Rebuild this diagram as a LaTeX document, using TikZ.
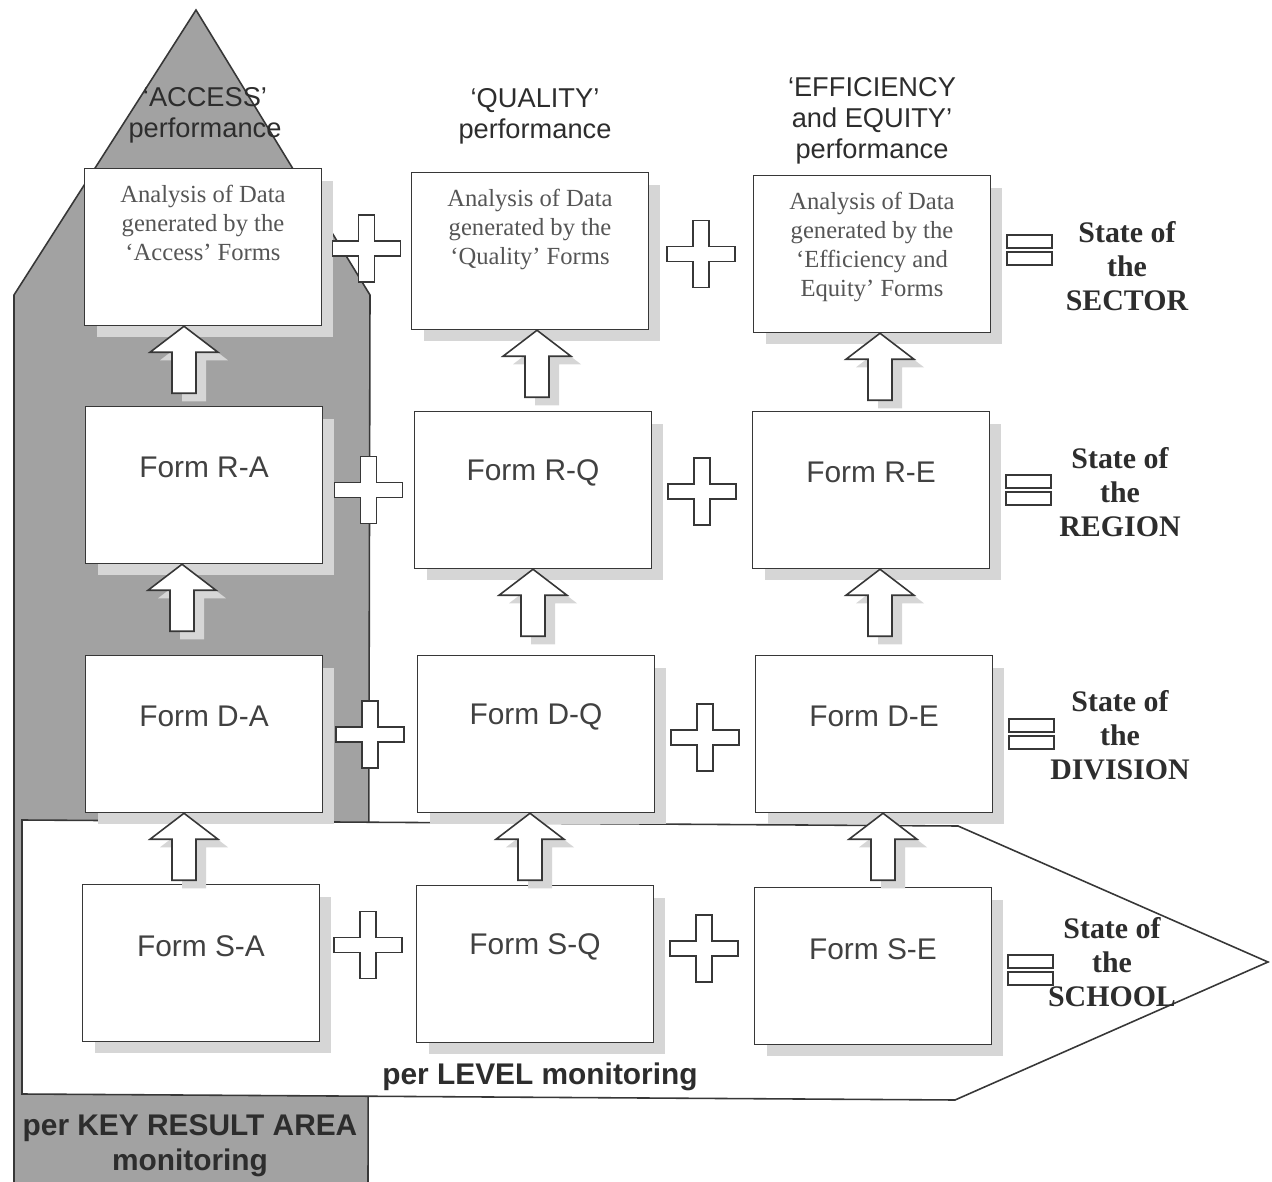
\documentclass[tikz,border=0pt]{standalone}
\usepackage{fontspec}
\setmainfont{Liberation Serif}
\setsansfont{Liberation Sans}
\usetikzlibrary{calc,shadows}

\definecolor{kragray}{RGB}{162,162,162}
\definecolor{shadowgray}{RGB}{214,214,214}
\definecolor{linegray}{RGB}{55,55,55}
\definecolor{textgray}{RGB}{65,65,65}
\definecolor{datagray}{RGB}{85,85,85}
\definecolor{titlegray}{RGB}{45,45,45}

% up arrow between two boxes: #1 lower box, #2 upper box, #3 x offset
\newcommand{\blockup}[3]{%
  \path ($(#1.north)+(#3,0)$) coordinate (tmpx);
  \fill[shadowgray] ($(tmpx |- #2.south)+(10,8)$) -- ++(34,26) -- ++(-22,0) -- ++(0,41) -- ++(-24,0) -- ++(0,-41) -- ++(-22,0) -- cycle;
  \draw[blockarr] (tmpx |- #2.south) -- ++(34,26) -- ++(-22,0) -- ++(0,41) -- ++(-24,0) -- ++(0,-41) -- ++(-22,0) -- cycle;
}
% plus between two boxes: #1 left box, #2 right box, #3 y offset
\newcommand{\plusbetween}[3]{%
  \draw[plussign] ($(#1.east)!0.5!(#2.west)+(-8,-34+#3)$) -- ++(16,0) -- ++(0,26) -- ++(26,0) -- ++(0,15) -- ++(-26,0) -- ++(0,26) -- ++(-16,0) -- ++(0,-26) -- ++(-26,0) -- ++(0,-15) -- ++(26,0) -- cycle;
}
% equal sign right of a box: #1 box, #2 y offset
\newcommand{\eqafter}[2]{%
  \draw[eqsign] ($(#1.east)+(16,-15+#2)$) rectangle ++(45,13);
  \draw[eqsign] ($(#1.east)+(16,2+#2)$) rectangle ++(45,13);
}

\begin{document}
\begin{tikzpicture}[
    x=0.02cm, y=-0.02cm,
    formbox/.style={
        rectangle,
        draw=linegray,
        fill=white,
        line width=0.9pt,
        minimum width=4.74cm,
        minimum height=3.14cm,
        inner sep=0pt,
        drop shadow={shadow xshift=0.24cm, shadow yshift=-0.24cm, fill=shadowgray, opacity=1}
    },
    formtext/.style={
        font=\sffamily\fontsize{17}{20}\selectfont,
        text=textgray,
        inner sep=0pt
    },
    datatext/.style={
        font=\fontsize{14}{16.5}\selectfont,
        text=datagray,
        align=center,
        inner sep=0pt
    },
    titletext/.style={
        font=\sffamily\fontsize{15.5}{17.5}\selectfont,
        text=titlegray,
        align=center,
        inner sep=0pt
    },
    statetext/.style={
        font=\bfseries\fontsize{17}{19.5}\selectfont,
        text=titlegray,
        align=center,
        inner sep=0pt
    },
    bandtext/.style={
        font=\sffamily\bfseries\fontsize{17}{20}\selectfont,
        text=titlegray,
        align=center,
        inner sep=0pt
    },
    blockarr/.style={draw=linegray, fill=white, line width=0.9pt},
    plussign/.style={draw=linegray, fill=white, line width=0.9pt},
    eqsign/.style={draw=linegray, fill=white, line width=0.9pt}
]
\useasboundingbox (0,0) rectangle (1272,1182);

% Key result area band (grey)
\fill[kragray] (14,1182) -- (14,295) -- (196,10) -- (370,295) -- (368,1182) -- cycle;
\draw[linegray, line width=0.9pt] (14,1182) -- (14,295) -- (196,10) -- (370,295) -- (368,1182);

% Level band (white)
\draw[linegray, fill=white, line width=0.9pt] (22,820) -- (958,826) -- (1268,962) -- (955,1100) -- (22,1094) -- cycle;

% Titles
\node[titletext] (ttlAccess) at (205,115) {‘ACCESS’\\performance};
\node[titletext] (ttlQuality) at (535,116) {‘QUALITY’\\performance};
\node[titletext] (ttlEfficiency) at (872,121) {‘EFFICIENCY\\and EQUITY’\\performance};

% Analysis boxes
\node[formbox] (anA) at (203,247) {};
\node[formbox] (anQ) at (530,251) {};
\node[formbox] (anE) at (872,254) {};

% Region, division, school forms
\node[formbox] (frmRA) at (204,485) {};
\node[formbox] (frmRQ) at (533,490) {};
\node[formbox] (frmRE) at (871,490) {};
\node[formbox] (frmDA) at (204,734) {};
\node[formbox] (frmDQ) at (536,734) {};
\node[formbox] (frmDE) at (874,734) {};
\node[formbox] (frmSA) at (201,963) {};
\node[formbox] (frmSQ) at (535,964) {};
\node[formbox] (frmSE) at (873,966) {};

% Box texts
\node[datatext, anchor=north] (txAnA) at ($(anA.north)+(0,17)$) {Analysis of Data\\generated by the\\‘Access’ Forms};
\node[datatext, anchor=north] (txAnQ) at ($(anQ.north)+(0,17)$) {Analysis of Data\\generated by the\\‘Quality’ Forms};
\node[datatext, anchor=north] (txAnE) at ($(anE.north)+(0,17)$) {Analysis of Data\\generated by the\\‘Efficiency and\\Equity’ Forms};
\node[formtext] (txRA) at ($(frmRA.north)+(0,62)$) {Form R-A};
\node[formtext] (txRQ) at ($(frmRQ.north)+(0,62)$) {Form R-Q};
\node[formtext] (txRE) at ($(frmRE.north)+(0,62)$) {Form R-E};
\node[formtext] (txDA) at ($(frmDA.north)+(0,62)$) {Form D-A};
\node[formtext] (txDQ) at ($(frmDQ.north)+(0,62)$) {Form D-Q};
\node[formtext] (txDE) at ($(frmDE.north)+(0,62)$) {Form D-E};
\node[formtext] (txSA) at ($(frmSA.north)+(0,62)$) {Form S-A};
\node[formtext] (txSQ) at ($(frmSQ.north)+(0,62)$) {Form S-Q};
\node[formtext] (txSE) at ($(frmSE.north)+(0,62)$) {Form S-E};

% Up arrows
\blockup{frmRA}{anA}{-20}
\blockup{frmDA}{frmRA}{-22}
\blockup{frmSA}{frmDA}{-17}
\blockup{frmRQ}{anQ}{4}
\blockup{frmDQ}{frmRQ}{-3}
\blockup{frmSQ}{frmDQ}{-5}
\blockup{frmRE}{anE}{9}
\blockup{frmDE}{frmRE}{6}
\blockup{frmSE}{frmDE}{10}

% Plus signs
\plusbetween{anA}{anQ}{0}
\plusbetween{anQ}{anE}{2}
\plusbetween{frmRA}{frmRQ}{3}
\plusbetween{frmRQ}{frmRE}{2}
\plusbetween{frmDA}{frmDQ}{1}
\plusbetween{frmDQ}{frmDE}{4}
\plusbetween{frmSA}{frmSQ}{-18}
\plusbetween{frmSQ}{frmSE}{-16}

% Equal signs
\eqafter{anE}{-4}
\eqafter{frmRE}{0}
\eqafter{frmDE}{0}
\eqafter{frmSE}{4}

% States
\node[statetext] (stSector) at (1127,266) {State of\\the\\SECTOR};
\node[statetext] (stRegion) at (1120,492) {State of\\the\\REGION};
\node[statetext] (stDivision) at (1120,735) {State of\\the\\DIVISION};
\node[statetext] (stSchool) at (1112,962) {State of\\the\\SCHOOL};

% Band labels
\node[bandtext] (lblLevel) at (540,1077) {per LEVEL monitoring};
\node[bandtext] (lblKra) at (190,1146) {per KEY RESULT AREA\\monitoring};

\end{tikzpicture}
\end{document}
